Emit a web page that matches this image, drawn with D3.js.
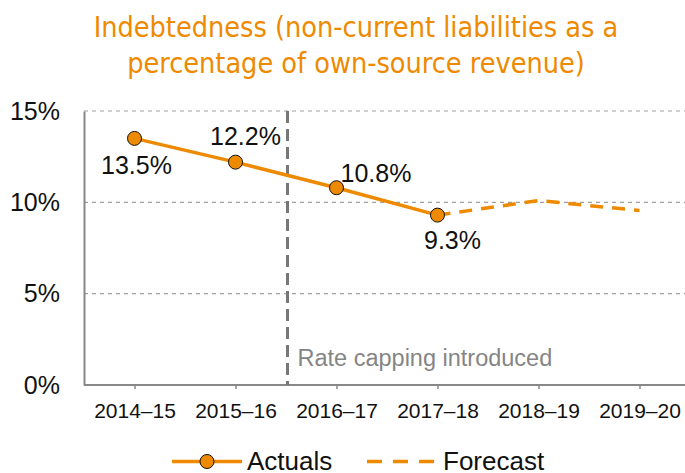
<!DOCTYPE html>
<html>
<head>
<meta charset="utf-8">
<script src="https://cdn.jsdelivr.net/npm/d3@7"></script>
<style>
  body { margin: 0; background: #fff; }
  text { font-family: "Liberation Sans", Arial, sans-serif; }
</style>
</head>
<body>
<div id="chart"></div>
<script>
// data
var years = ["2014–15", "2015–16", "2016–17", "2017–18", "2018–19", "2019–20"]
var actuals = [13.5, 12.2, 10.8, 9.3]
var forecast = [9.3, 10.1, 9.55]
var yTicks = [0, 5, 10, 15]
var titleLines = ["Indebtedness (non-current liabilities as a", "percentage of own-source revenue)"]

const W = 685, H = 473
const orange = "#EE8A00"

var svg = d3.select("#chart").append("svg")
  .attr("width", W).attr("height", H)

// scales
var x = d3.scalePoint().domain(years).range([84, 690]).padding(0.5)
var y = d3.scaleLinear().domain([0, 15]).range([385, 111])

// title
var title = svg.append("g")
titleLines.forEach(function(t, i) {
  title.append("text")
    .attr("x", 356).attr("y", 37 + i * 36)
    .attr("text-anchor", "middle")
    .style("font-family", "'Liberation Sans Narrow', 'DejaVu Sans Condensed', sans-serif")
    .style("font-size", "30px")
    .attr("fill", orange)
    .text(t)
})
// fit title width to ~525px
var first = title.select("text").node()
var fs = 30 * 525 / first.getComputedTextLength()
title.selectAll("text").style("font-size", fs + "px")

// gridlines
svg.append("g").selectAll("line")
  .data(yTicks.filter(v => v > 0))
  .enter().append("line")
  .attr("x1", 84).attr("x2", W)
  .attr("y1", d => y(d)).attr("y2", d => y(d))
  .attr("stroke", "#a0a0a0").attr("stroke-width", 1.2)
  .attr("stroke-dasharray", "4,4")

// y axis
var yAxis = svg.append("g")
  .attr("transform", "translate(84,0)")
  .call(d3.axisLeft(y).tickValues(yTicks).tickSize(0).tickPadding(24).tickFormat(d => d + "%"))
yAxis.select(".domain").attr("stroke", "#888").attr("stroke-width", 2)
yAxis.selectAll("text").style("font-size", "25px").attr("fill", "#111")
  .style("font-family", "'Liberation Sans', Arial, sans-serif")

// x axis
var xAxis = svg.append("g")
  .attr("transform", "translate(0,385)")
  .call(d3.axisBottom(x).tickSize(4).tickPadding(14).tickSizeOuter(0))
xAxis.select(".domain").attr("stroke", "#888").attr("stroke-width", 2)
  .attr("d", "M84,0H" + W)
xAxis.selectAll(".tick line").attr("stroke", "#888").attr("stroke-width", 1.5)
xAxis.selectAll("text").style("font-size", "21px").attr("fill", "#111")
  .style("font-family", "'Liberation Sans', Arial, sans-serif")

// rate capping marker
var capX = (x(years[1]) + x(years[2])) / 2 + 1.5
svg.append("line")
  .attr("x1", capX).attr("x2", capX)
  .attr("y1", y(15)).attr("y2", y(0))
  .attr("stroke", "#777").attr("stroke-width", 3)
  .attr("stroke-dasharray", "12,6")
svg.append("text")
  .attr("x", capX + 10).attr("y", 366)
  .style("font-size", "23.5px").attr("fill", "#858585")
  .text("Rate capping introduced")

// lines
var line = d3.line()
  .x(d => x(d.year)).y(d => y(d.v))

var actualData = actuals.map((v, i) => ({year: years[i], v: v}))
var forecastData = forecast.map((v, i) => ({year: years[i + 3], v: v}))

svg.append("path").datum(forecastData)
  .attr("d", line).attr("fill", "none")
  .attr("stroke", orange).attr("stroke-width", 3.5)
  .attr("stroke-dasharray", "13,9")
svg.append("path").datum(actualData)
  .attr("d", line).attr("fill", "none")
  .attr("stroke", orange).attr("stroke-width", 3.5)

svg.append("g").selectAll("circle")
  .data(actualData).enter().append("circle")
  .attr("cx", d => x(d.year)).attr("cy", d => y(d.v))
  .attr("r", 7).attr("fill", orange)
  .attr("stroke", "#111").attr("stroke-width", 1)

// data labels
var labelPos = [
  {dx: 2, dy: 36, anchor: "middle"},
  {dx: 10, dy: -17, anchor: "middle"},
  {dx: 4, dy: -6, anchor: "start"},
  {dx: 15, dy: 34, anchor: "middle"}
]
svg.append("g").selectAll("text")
  .data(actualData).enter().append("text")
  .attr("x", (d, i) => x(d.year) + labelPos[i].dx)
  .attr("y", (d, i) => y(d.v) + labelPos[i].dy)
  .attr("text-anchor", (d, i) => labelPos[i].anchor)
  .style("font-size", "25px").attr("fill", "#111")
  .text(d => d.v.toFixed(1) + "%")

// legend
var lg = svg.append("g").attr("transform", "translate(0,461.5)")
lg.append("line").attr("x1", 172).attr("x2", 242)
  .attr("stroke", orange).attr("stroke-width", 3.5)
lg.append("circle").attr("cx", 207).attr("r", 7)
  .attr("fill", orange).attr("stroke", "#111").attr("stroke-width", 1)
lg.append("text").attr("x", 247).attr("y", 8.5)
  .style("font-size", "26px").attr("fill", "#111").text("Actuals")
lg.append("line").attr("x1", 367).attr("x2", 436)
  .attr("stroke", orange).attr("stroke-width", 3.5)
  .attr("stroke-dasharray", "15,11")
lg.append("text").attr("x", 443).attr("y", 8.5)
  .style("font-size", "26px").attr("fill", "#111").text("Forecast")
</script>
</body>
</html>
